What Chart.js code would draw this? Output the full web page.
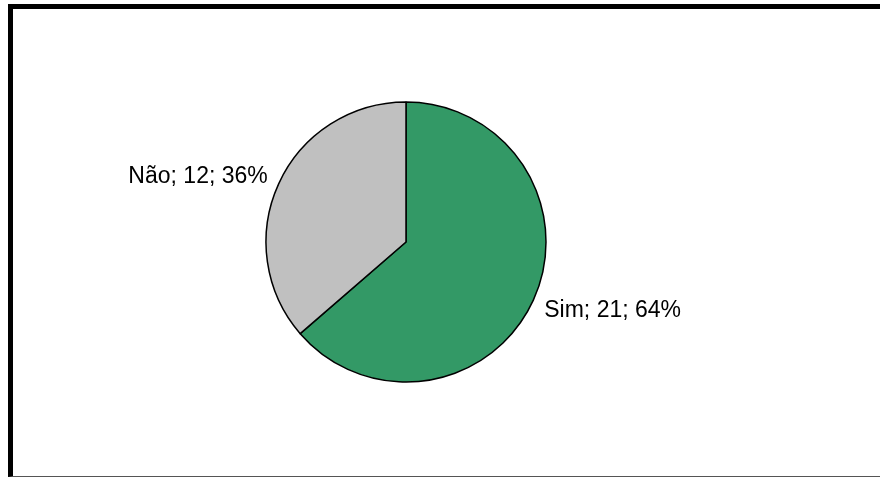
<!DOCTYPE html>
<html>
<head>
<meta charset="utf-8">
<script src="https://cdn.jsdelivr.net/npm/chart.js@4"></script>
<style>
    html, body { margin: 0; padding: 0; background: #fff; overflow: hidden; }
    #frame {
        position: absolute; left: 8px; top: 4px; width: 900px; height: 467px;
        border-left: 5px solid #000; border-top: 5px solid #000; border-bottom: 1px solid #555;
    }
    #pieChart { position: absolute; left: 0; top: 0; }
</style>
</head>
<body>
<div id="frame"></div>
<canvas id="pieChart" width="880" height="477"></canvas>
<script>
const categories = ['Sim', 'Não'];
const answers = [21, 12];
const sliceColors = ['#339966', '#c0c0c0'];

const total = answers.reduce((a, b) => a + b, 0);

// "label; value; pct%" written just outside each slice
const outsideLabels = {
    id: 'outsideLabels',
    afterDatasetsDraw(chart) {
        const ctx = chart.ctx;
        const arcs = chart.getDatasetMeta(0).data;
        ctx.save();
        ctx.font = '23px "Liberation Sans", Arial, sans-serif';
        ctx.fillStyle = '#000';
        ctx.textBaseline = 'alphabetic';
        arcs.forEach((arc, i) => {
            const mid = (arc.startAngle + arc.endAngle) / 2;
            const dx = Math.cos(mid), dy = Math.sin(mid);
            const r = arc.outerRadius + 12;
            const x = arc.x + dx * r;
            const y = arc.y + dy * r + dy * 10;
            const pct = Math.round(answers[i] / total * 100);
            ctx.textAlign = dx < 0 ? 'right' : 'left';
            ctx.fillText(categories[i] + '; ' + answers[i] + '; ' + pct + '%', x, y + 8);
        });
        ctx.restore();
    }
};

new Chart(document.getElementById('pieChart'), {
    type: 'pie',
    data: {
        labels: categories,
        datasets: [{
            data: answers,
            backgroundColor: sliceColors,
            borderColor: '#000',
            borderWidth: 1.5,
            radius: 140
        }]
    },
    options: {
        responsive: false,
        animation: false,
        layout: { padding: { left: 0, right: 68, top: 7, bottom: 0 } },
        plugins: { legend: { display: false }, tooltip: { enabled: false } }
    },
    plugins: [outsideLabels]
});
</script>
</body>
</html>
